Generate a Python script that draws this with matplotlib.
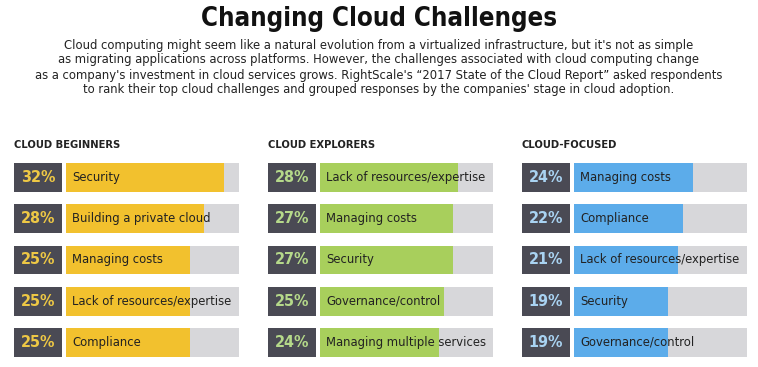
import matplotlib
matplotlib.use('Agg')
import matplotlib.pyplot as plt

title = 'Changing Cloud Challenges'
subtitle = [
    "Cloud computing might seem like a natural evolution from a virtualized infrastructure, but it's not as simple",
    "as migrating applications across platforms. However, the challenges associated with cloud computing change",
    "as a company's investment in cloud services grows. RightScale's \u201c2017 State of the Cloud Report\u201d asked respondents",
    "to rank their top cloud challenges and grouped responses by the companies' stage in cloud adoption.",
]

beginners_labels = ['Security', 'Building a private cloud', 'Managing costs',
                    'Lack of resources/expertise', 'Compliance']
beginners_vals = [32, 28, 25, 25, 25]

explorers_labels = ['Lack of resources/expertise', 'Managing costs', 'Security',
                    'Governance/control', 'Managing multiple services']
explorers_vals = [28, 27, 27, 25, 24]

focused_labels = ['Managing costs', 'Compliance', 'Lack of resources/expertise',
                  'Security', 'Governance/control']
focused_vals = [24, 22, 21, 19, 19]

scale_max = 35

W, H = 758, 367
fig = plt.figure(figsize=(W / 100, H / 100), dpi=100)
fig.patch.set_facecolor('white')

fig.text(0.5, 1 - 19 / H, title, ha='center', va='center', fontsize=18.5,
         fontweight='bold', fontstretch='condensed', color='#111111')
for i, line in enumerate(subtitle):
    fig.text(0.5, 1 - (45 + 15 * i) / H, line, ha='center', va='center',
             fontsize=9.3, fontstretch='condensed', color='#222222')

panels = [
    ('CLOUD BEGINNERS', beginners_labels, beginners_vals, '#f2c12e', '#eec845', 14),
    ('CLOUD EXPLORERS', explorers_labels, explorers_vals, '#a8cf5c', '#b5d98a', 268),
    ('CLOUD-FOCUSED', focused_labels, focused_vals, '#5cacea', '#a9d3f2', 522),
]

top_px, bot_px = 157, 363
for head, labels, vals, color, pct_color, left_px in panels:
    ax = fig.add_axes([left_px / W, 1 - bot_px / H, 225 / W, (bot_px - top_px) / H])
    ys = range(len(vals))
    # dark box, grey track, coloured bar
    ax.barh(ys, [9.7] * len(vals), left=-10.5, height=0.7, color='#4a4a54')
    ax.barh(ys, [scale_max] * len(vals), left=0, height=0.7, color='#d7d7da')
    ax.barh(ys, vals, left=0, height=0.7, color=color)
    for y, lab, v in zip(ys, labels, vals):
        ax.text(-5.65, y, f'{v}%', ha='center', va='center', fontsize=11.5,
                fontweight='bold', fontstretch='condensed', color=pct_color)
        ax.text(1.3, y, lab, ha='left', va='center', fontsize=9.3,
                fontstretch='condensed', color='#222222')
    ax.set_xlim(-10.5, scale_max)
    ax.set_ylim(len(vals) - 0.5, -0.5)
    ax.axis('off')
    fig.text(left_px / W, 1 - 145 / H, head, ha='left', va='center',
             fontsize=8, fontweight='bold', fontstretch='condensed', color='#222222')

fig.savefig('out.png', dpi=100)
